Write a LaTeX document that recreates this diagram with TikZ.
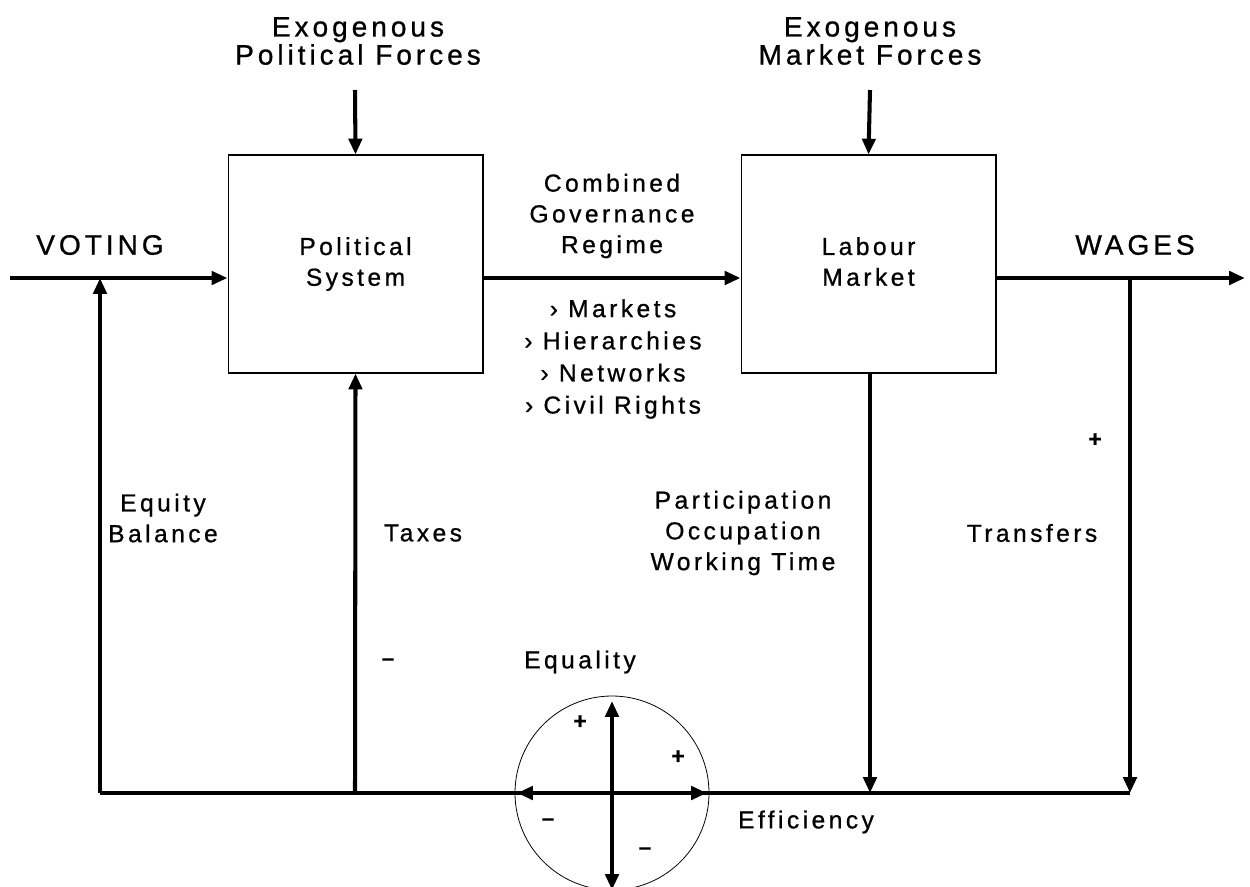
\documentclass[tikz,border=0pt]{standalone}
\usepackage{fontspec}
\setmainfont{Liberation Sans}[LetterSpace=14,FakeBold=0.8]
\usetikzlibrary{arrows.meta}

\begin{document}
\begin{tikzpicture}[x=0.02cm,y=-0.02cm,line join=miter]

    \tikzstyle{every node}=[align=center,inner sep=0pt]
    \tikzstyle{big}=[font=\fontsize{16}{16}\selectfont]
    \tikzstyle{txt}=[font=\fontsize{14}{17.5}\selectfont]
    \tikzstyle{block}=[draw,line width=0.6pt,minimum width=5.1cm,minimum height=4.36cm,txt]
    \tikzstyle{flow}=[line width=2.3pt,-{Triangle[length=9pt,width=7.5pt]}]
    \tikzstyle{sign}=[font=\fontsize{13}{13}\selectfont\bfseries]

    \useasboundingbox (0,0) rectangle (1250,886);

    % headers and main labels
    \node[big] (exopol) at (358,41) {Exogenous\\Political Forces};
    \node[big] (exomkt) at (870,41) {Exogenous\\Market Forces};
    \node[big] (voting) at (100,245) {VOTING};
    \node[big] (wages)  at (1135,245) {WAGES};

    % the two systems
    \node[block] (polsys) at (355.5,264) {Political\\System};
    \node[block] (labmkt) at (868.5,264) {Labour\\Market\vphantom{y}};

    \node[txt] (regime) at (612,216) {Combined\\Governance\\Regime};
    \node[txt,font=\fontsize{14}{18.3}\selectfont] (modes) at (613,359)
        {› Markets\\› Hierarchies\\› Networks\\› Civil Rights};

    \node[txt] (equity) at (163,518) {Equity\\Balance};
    \node[txt] (taxes)  at (423,533) {Taxes};
    \node[txt] (partic) at (743,533) {Participation\\Occupation\\Working Time};
    \node[txt] (transf) at (1032,533) {Transfers};
    \node[txt] (equal)  at (580,662) {Equality};
    \node[txt] (effic)  at (806,822) {Efficiency};

    \node[sign] (p1) at (1095,440) {+};
    \node[sign] (m1) at (388,662) {–};
    \node[sign] (p2) at (580,722) {+};
    \node[sign] (p3) at (678,757) {+};
    \node[sign] (m2) at (548,822) {–};
    \node[sign] (m3) at (645,851) {–};

    % junction points
    \coordinate (vin)   at (10,278);
    \coordinate (wout)  at (1245,278);
    \coordinate (eqtop) at (100,278);
    \coordinate (eqbot) at (100,793);
    \coordinate (taxbot) at (355,793);
    \coordinate (trtop) at (1130,278);
    \coordinate (trbot) at (1130,793);
    \coordinate (labbot) at (870,793);
    \coordinate (polin) at (355,90);
    \coordinate (mktin) at (870,90);
    \coordinate (tradeoff) at (612,793);

    % forward flows
    \draw[flow] (polin) -- (polsys.north);
    \draw[flow] (mktin) -- (labmkt.north);
    \draw[flow] (vin) -- (polsys.west |- vin);
    \draw[flow] (polsys.east |- vin) -- (labmkt.west |- vin);
    \draw[flow] (labmkt.east |- wout) -- (wout);

    % feedback loop
    \draw[line width=2.3pt] (eqbot) -- (trbot);
    \draw[flow] (eqbot) -- (eqtop);
    \draw[flow] (taxbot) -- (polsys.south);
    \draw[flow] (labmkt.south -| labbot) -- (labbot);
    \draw[flow] (trtop) -- (trbot);

    % equality / efficiency trade-off
    \draw[line width=0.45pt] (tradeoff) circle (97);
    \draw[line width=2.3pt,{Triangle[length=9pt,width=7.5pt]}-{Triangle[length=9pt,width=7.5pt]}]
        ([yshift=-1.94cm]tradeoff) -- ([yshift=1.84cm]tradeoff);
    \draw[line width=2.3pt,{Triangle[length=9pt,width=7.5pt]}-{Triangle[length=9pt,width=7.5pt]}]
        ([xshift=-1.9cm]tradeoff) -- ([xshift=1.9cm]tradeoff);
  \end{tikzpicture}
\end{document}
